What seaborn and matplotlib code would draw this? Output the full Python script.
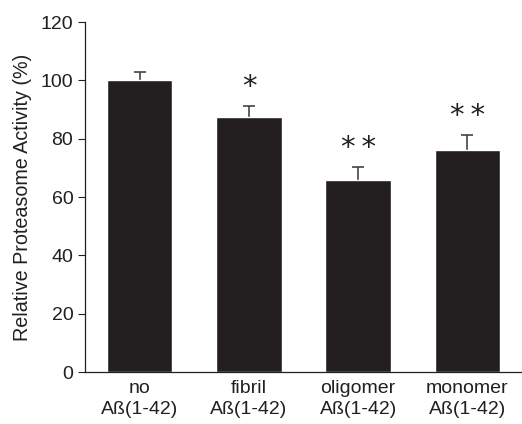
import numpy as np
import pandas as pd
import seaborn as sns
import matplotlib.pyplot as plt

conditions = ["no\nAß(1-42)", "fibril\nAß(1-42)", "oligomer\nAß(1-42)", "monomer\nAß(1-42)"]
activity = [100.0, 87.3, 65.8, 76.2]
sem = [3.0, 4.0, 4.5, 5.0]
stars = ["", "*", "**", "**"]

sns.set_style("white")
plt.rcParams['font.family'] = ['Liberation Sans', 'DejaVu Sans']

df = pd.DataFrame({"condition": conditions, "activity": activity})

fig = plt.figure(figsize=(5.22, 4.24), dpi=100)
ax = fig.add_axes([0.163, 0.1226, 0.837, 0.8254])

sns.barplot(data=df, x="condition", y="activity", color="#231f20",
            width=0.6, errorbar=None, saturation=1, ax=ax)
ax.errorbar(np.arange(len(activity)), activity, yerr=sem,
            fmt="none", ecolor="#444444", elinewidth=1.2, capsize=4, capthick=1.2, zorder=1)
# bars on top so only the upper half of each error bar shows
for p in ax.patches:
    p.set_zorder(3)

# significance marks
for i, (v, e, s) in enumerate(zip(activity, sem, stars)):
    if s:
        ax.text(i, v + e + 6.5, "\u2009".join(s), ha="center", va="center",
                fontsize=21, color="#231f20", family="DejaVu Sans", zorder=4)

ax.set_xlim(-0.5, 3.5)
ax.set_ylim(0, 120)
ax.set_yticks(np.arange(0, 121, 20))
ax.set_xlabel("")
ax.set_ylabel("Relative Proteasome Activity (%)", fontsize=14.2, color="#231f20", labelpad=6)

ax.set_xticks([0.5, 1.5, 2.5], minor=True)
ax.tick_params(axis="x", which="major", length=0, pad=6, labelsize=14, colors="#231f20")
ax.tick_params(axis="x", which="minor", direction="in", length=5, width=0.8, color="#231f20")
ax.tick_params(axis="y", direction="out", length=5, width=0.8, labelsize=14, colors="#231f20", left=True)
for lab in ax.get_xticklabels():
    lab.set_linespacing(1.25)

for side in ["top", "right"]:
    ax.spines[side].set_visible(False)
for side in ["left", "bottom"]:
    ax.spines[side].set_color("#231f20")
    ax.spines[side].set_linewidth(0.9)
    ax.spines[side].set_zorder(5)

fig.savefig("out.png", dpi=100)
